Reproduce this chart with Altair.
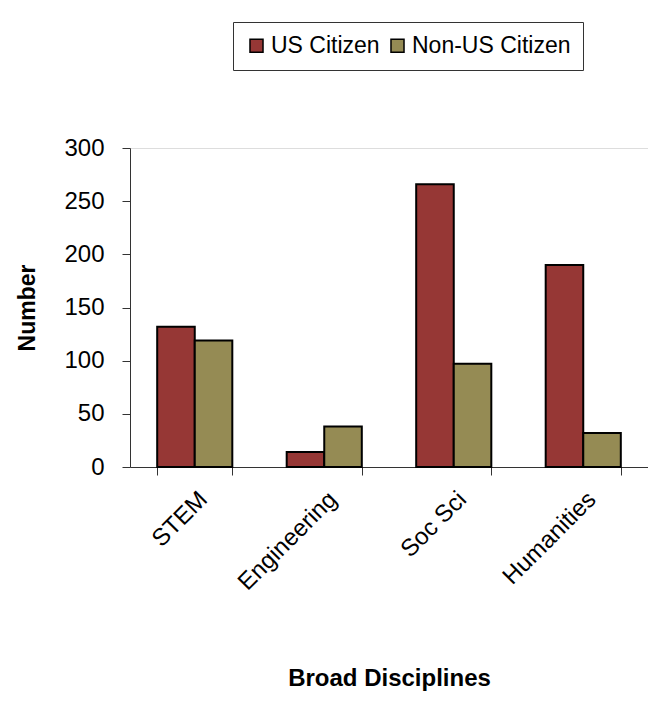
import altair as alt
import pandas as pd

categories = ["STEM", "Engineering", "Soc Sci", "Humanities"]
us_citizen = [132, 14, 266, 190]
non_us_citizen = [119, 38, 97, 32]
series = ["US Citizen", "Non-US Citizen"]
colors = ["#963735", "#958B54"]

rows = []
for c, a, b in zip(categories, us_citizen, non_us_citizen):
    rows.append({"discipline": c, "group": series[0], "value": a})
    rows.append({"discipline": c, "group": series[1], "value": b})
df = pd.DataFrame(rows)

FONT = "Liberation Sans"

chart = alt.Chart(df).mark_bar(stroke="black", strokeWidth=2).encode(
    x=alt.X("discipline:N", sort=categories,
            scale=alt.Scale(paddingInner=0.42, paddingOuter=0.21),
            axis=alt.Axis(title="Broad Disciplines", labelAngle=-45,
                          labelFont=FONT, labelFontSize=24, labelColor="black",
                          labelPadding=12, tickBand="extent", tickSize=8,
                          tickColor="#333333", domainColor="#333333",
                          titleFont=FONT, titleFontSize=24, titleFontWeight="bold",
                          titleColor="black", titlePadding=72)),
    xOffset=alt.XOffset("group:N", sort=series, scale=alt.Scale(paddingInner=0, paddingOuter=0)),
    y=alt.Y("value:Q", scale=alt.Scale(domain=[0, 300]),
            axis=alt.Axis(title="Number", values=[0, 50, 100, 150, 200, 250, 300],
                          grid=False, labelFont=FONT, labelFontSize=24,
                          labelColor="black", labelPadding=18, tickSize=8,
                          tickColor="#333333", domainColor="#333333",
                          titleFont=FONT, titleFontSize=23, titleFontWeight="bold",
                          titleColor="black", titlePadding=24)),
    color=alt.Color("group:N", sort=series,
                    scale=alt.Scale(domain=series, range=colors),
                    legend=alt.Legend(title=None, orient="none", direction="horizontal",
                                      legendX=103, legendY=-126,
                                      labelFont=FONT, labelFontSize=23, labelColor="black",
                                      symbolType="square", symbolSize=170,
                                      symbolStrokeColor="black", symbolStrokeWidth=1.5,
                                      labelOffset=3, columnPadding=6,
                                      strokeColor="#333333", padding=12)),
).properties(
    width=518, height=319,
    autosize=alt.AutoSizeParams(type="none"),
    padding={"left": 122, "top": 140, "right": 0, "bottom": 226},
).configure_view(stroke="#888888", strokeWidth=1.5).configure(background="white")

chart.save("out.html", embed_options={"renderer": "svg", "actions": False})
